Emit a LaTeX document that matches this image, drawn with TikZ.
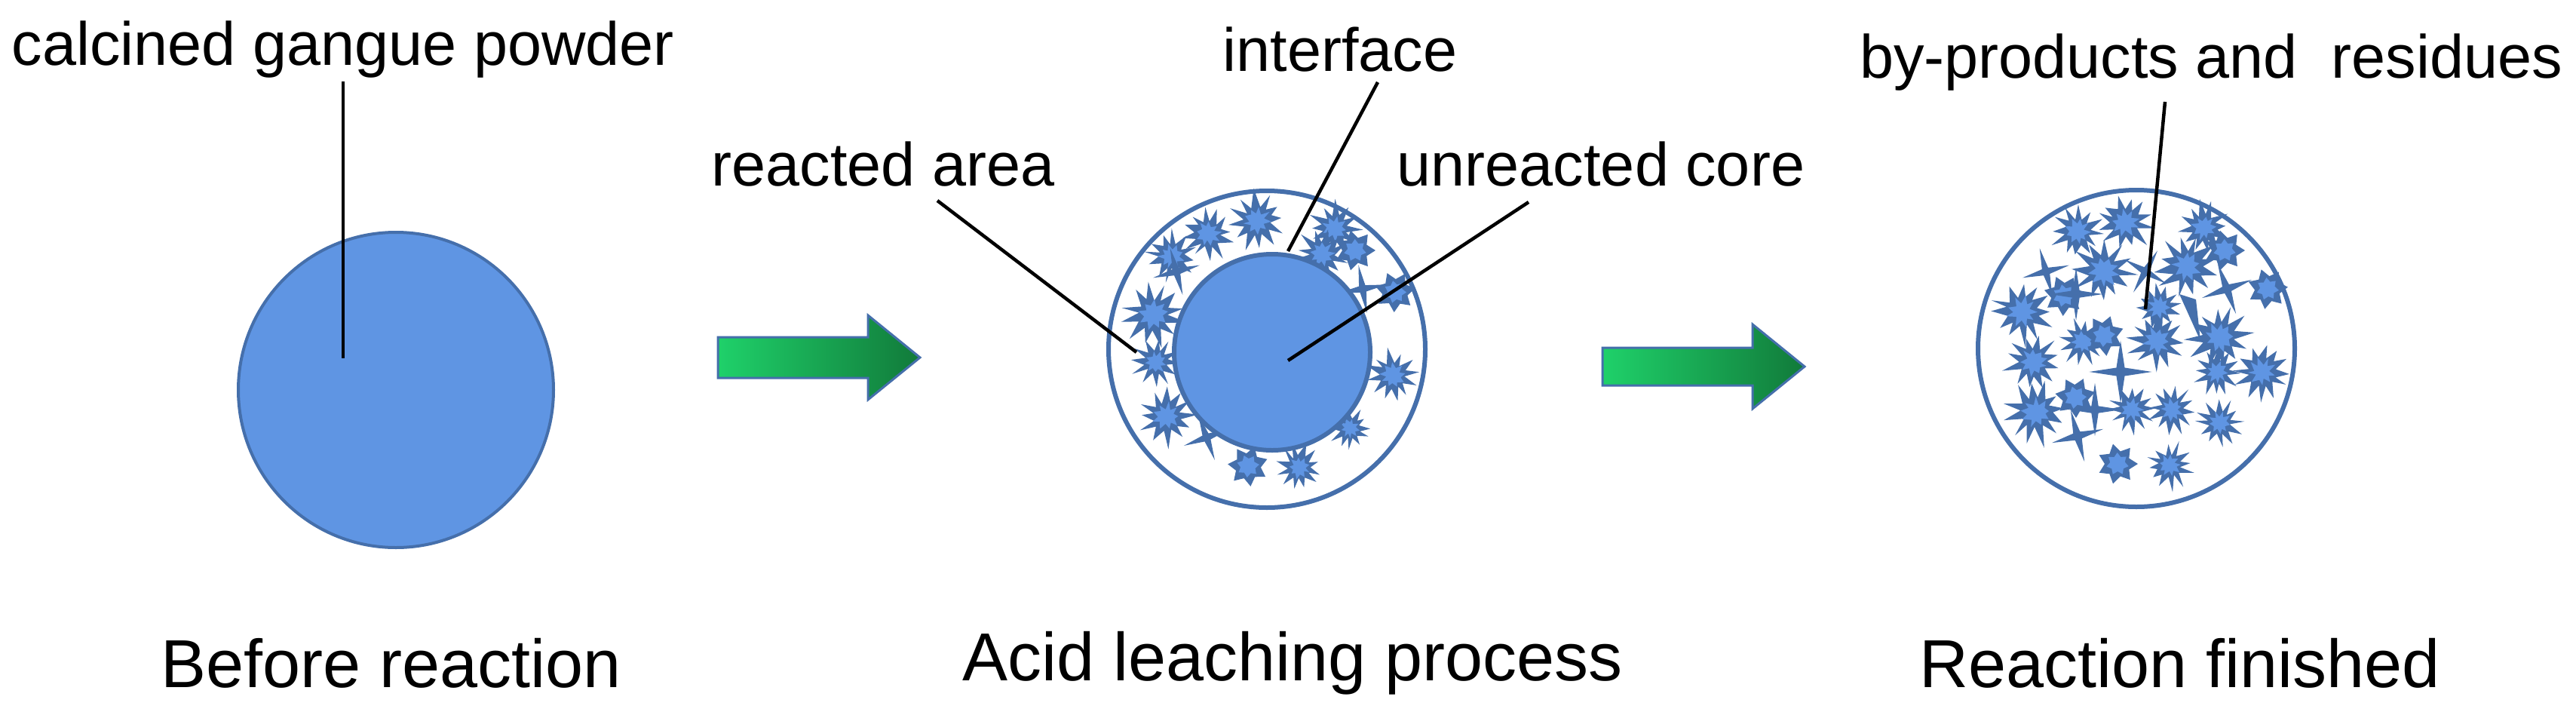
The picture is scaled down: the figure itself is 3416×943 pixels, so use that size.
\documentclass[tikz,border=0pt]{standalone}
\usepackage{fontspec}
\setmainfont{Liberation Sans}
\definecolor{bfill}{HTML}{5F95E3}
\definecolor{bdark}{HTML}{456FAB}
\definecolor{gL}{HTML}{1FD16A}
\definecolor{gR}{HTML}{117A3A}
\tikzset{
 lbl/.style={font=\fontsize{81}{96}\selectfont, inner sep=0pt},
 captxt/.style={font=\fontsize{90}{108}\selectfont, inner sep=0pt},
 lead/.style={line width=4.5pt, black},
 ring/.style={line width=6pt, draw=bdark},
 garrow/.style={left color=gL, right color=gR, draw=bdark, line width=3pt},
 spk/.pic={
   \fill[bdark] plot[samples at={0,15,...,345}] ({\x+7*rnd}:{mod(\x,30)==0 ? 28+12*rnd : 15+4*rnd}) -- cycle;
   \fill[bfill] plot[samples at={0,20,...,340}] ({\x+8*rnd}:{mod(\x,40)==0 ? 14+5*rnd : 8+3*rnd}) -- cycle;
 },
 sev/.pic={
   \fill[bdark] plot[samples at={0,25.7,...,340}] ({\x}:{mod(round(\x/25.7),2)==0 ? 27 : 17}) -- cycle;
   \fill[bfill] plot[samples at={0,25.7,...,340}] ({\x+12}:{mod(round(\x/25.7),2)==0 ? 15 : 10}) -- cycle;
 },
 four/.pic={
   \fill[bdark] plot[samples at={0,45,...,315}] ({\x}:{mod(\x,90)==0 ? 32 : 6}) -- cycle;
 },
}
\begin{document}
\begin{tikzpicture}[x=1pt,y=-1pt]
\pgfmathsetseed{7}
\useasboundingbox (0,0) rectangle (3416,943);
% circle 1
\fill[bfill, draw=bdark, line width=4pt] (525,517) circle (209);
% circle 2
\draw[ring] (1680,463) circle (210);
\foreach \p/\q/\s/\r in {1602/310/1/10,1667/293/1.1/40,1770/303/1/0,1553/340/1/25,1530/417/1.2/15,1533/480/0.9/30,1547/552/1.1/5,1723/620/0.9/20,1790/568/0.8/35,1847/498/1/12,1753/337/1/50}
  \pic[rotate=\r, scale=\s] at (\p,\q) {spk};
\foreach \p/\q/\r in {1797/332/0,1850/387/10,1655/618/20}
  \pic[rotate=\r] at (\p,\q) {sev};
\foreach \p/\q/\r in {1560/360/15,1600/580/20,1807/383/10}
  \pic[rotate=\r] at (\p,\q) {four};
\fill[bfill, draw=bdark, line width=6pt] (1687,467) circle (130);
% circle 3
\draw[ring] (2833,462) circle (210);
\foreach \p/\q/\s/\r in {2755/307/1/0,2818/295/1.1/20,2923/302/1/10,2790/360/1.2/30,2900/353/1.2/15,2682/413/1.2/5,2762/453/0.9/25,2860/452/1.1/0,2863/407/0.9/40,2943/447/1.2/10,2697/480/1.1/20,2940/493/0.9/0,3000/493/1.1/30,2700/547/1.2/15,2827/543/0.9/5,2880/543/0.9/25,2943/560/0.9/35,2877/617/0.9/10}
  \pic[rotate=\r, scale=\s] at (\p,\q) {spk};
\foreach \p/\q/\r in {2950/332/0,2737/392/10,2790/445/20,3007/383/5,2752/527/15,2808/615/0}
  \pic[rotate=\r] at (\p,\q) {sev};
\foreach \p/\q/\s/\r in {2713/360/1/15,2753/390/1.1/0,2953/383/1.1/20,2812/493/1.3/0,2778/543/1.1/0,2755/578/1.1/15,2845/360/1/60}
  \pic[rotate=\r, scale=\s] at (\p,\q) {four};
\fill[bdark] (2890,390) -- (2912,397) -- (2918,452) -- cycle;
% arrows
\shade[garrow] (952,447) -- (1151,447) -- (1151,418) -- (1220,474) -- (1151,530) -- (1151,501) -- (952,501) -- cycle;
\shade[garrow] (2125,461) -- (2324,461) -- (2324,430) -- (2393,486) -- (2324,542) -- (2324,511) -- (2125,511) -- cycle;
% labels
\node[lbl] (cgp) at (455,66) {calcined gangue powder};
\node[lbl] (itf) at (1777,66) {interface};
\node[lbl] (ra) at (1171,218) {reacted area};
\node[lbl] (uc) at (2123,218) {unreacted core};
\node[lbl] (bp) at (2932,83) {by-products and \ residues};
\coordinate (e1) at (455,475);
\coordinate (e2) at (1708,333);
\coordinate (e3) at (1507,467);
\coordinate (e4) at (1708,478);
\coordinate (e5) at (2845,410);
\draw[lead] (455,108) -- (e1);
\draw[lead] (1827,109) -- (e2);
\draw[lead] (1243,266) -- (e3);
\draw[lead] (2027,268) -- (e4);
\draw[lead] (2871,135) -- (e5);
\node[captxt] (c1) at (519,879) {Before reaction};
\node[captxt] (c2) at (1714,879) {Acid leaching process};
\node[captxt] (c3) at (2891,879) {Reaction finished};
\end{tikzpicture}
\end{document}
